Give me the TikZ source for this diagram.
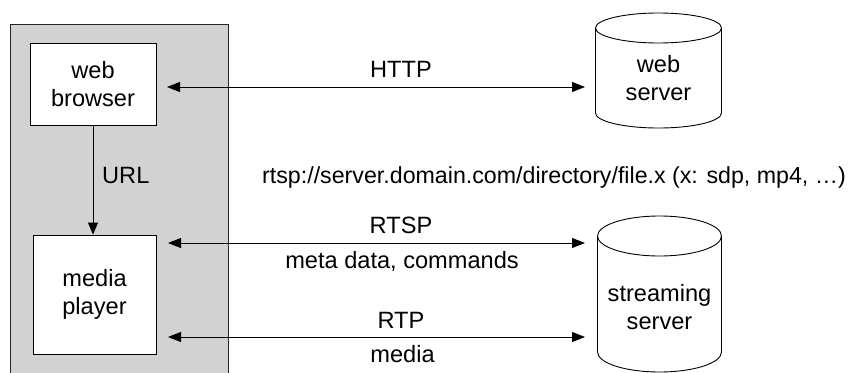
\documentclass[tikz,border=0pt]{standalone}
\usepackage{fontspec}
\setmainfont{Liberation Sans}
\usetikzlibrary{arrows.meta}
\begin{document}
\begin{tikzpicture}[x=1pt, y=-1pt,
  every node/.style={font=\fontsize{23.6}{27.5}\selectfont, inner sep=0pt},
  box/.style={draw, fill=white, line width=0.9pt, align=center},
  link/.style={line width=0.9pt, {Triangle[length=13pt, width=10pt]}-{Triangle[length=13pt, width=10pt]}},
  urllink/.style={line width=0.9pt, -{Triangle[length=12pt, width=10pt]}},
  drum/.style={draw, fill=white, line width=0.9pt},
  lbl/.style={anchor=base}]
\useasboundingbox (0,0) rectangle (853,372);

% client machine
\filldraw[fill=gray!35, draw=black!85, line width=0.9pt] (10,24) rectangle (228,390);
\node[box, minimum width=126, minimum height=82] (browser) at (93,84) {web\\browser};
\node[box, minimum width=123, minimum height=119] (player) at (94.5,294.5) {media\\player};
\draw[urllink] (browser.south) -- (browser.south |- player.north);
\node[anchor=base west] (url) at (102,183) {URL};

% web server drum
\draw[drum] (595.5,28) -- (595.5,113) arc[start angle=180, end angle=0, x radius=63, y radius=15] -- (721.5,28);
\draw[drum] (658.5,28) ellipse[x radius=63, y radius=15];
\node[align=center] (websrv) at (658.5,78) {web\\server};

% streaming server drum
\draw[drum] (597.5,236) -- (597.5,352) arc[start angle=180, end angle=0, x radius=62, y radius=20] -- (721.5,236);
\draw[drum] (659.5,236) ellipse[x radius=62, y radius=20];
\node[align=center] (strsrv) at (659.5,307) {streaming\\server};

% protocol links
\coordinate (httpL) at (167,87);  \coordinate (httpR) at (585,87);
\coordinate (rtspL) at (168,243); \coordinate (rtspR) at (585,243);
\coordinate (rtpL)  at (168,337); \coordinate (rtpR)  at (585,337);
\draw[link] (httpL) -- (httpR);
\draw[link] (rtspL) -- (rtspR);
\draw[link] (rtpL) -- (rtpR);

\node[lbl] (http) at (401,77) {HTTP};
\node[lbl] (rtsp) at (401,233) {RTSP};
\node[lbl] (meta) at (402,268) {meta data, commands};
\node[lbl] (rtp) at (401,328) {RTP};
\node[lbl] (media) at (402.5,362) {media};

\node[anchor=base west, font=\fontsize{23.2}{27}\selectfont] (addr) at (262,183) {rtsp://server.domain.com/directory/file.x (x: sdp, mp4, …)};
\end{tikzpicture}
\end{document}
